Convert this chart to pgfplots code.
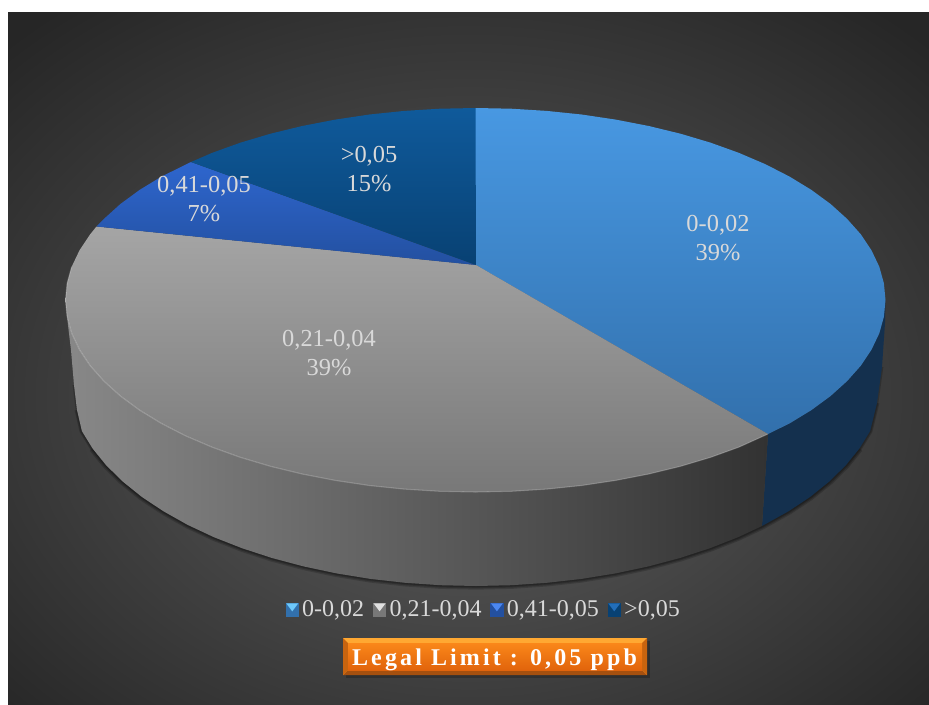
\documentclass[border=0pt]{standalone}
\usepackage{fontspec}
\setmainfont{Liberation Serif}
\usepackage{pgfplots}
\pgfplotsset{compat=1.18}

\definecolor{lbltext}{RGB}{217,217,217}
\definecolor{sliceA}{RGB}{72,152,226}
\definecolor{sliceAb}{RGB}{50,112,172}
\definecolor{sliceB}{RGB}{165,165,165}
\definecolor{sliceBb}{RGB}{120,120,120}
\definecolor{sliceC}{RGB}{46,102,206}
\definecolor{sliceCb}{RGB}{35,80,160}
\definecolor{sliceD}{RGB}{15,90,155}
\definecolor{sliceDb}{RGB}{8,65,115}
\definecolor{legA}{RGB}{110,200,250}
\definecolor{legB}{RGB}{225,225,225}
\definecolor{legC}{RGB}{75,135,240}
\definecolor{legD}{RGB}{35,110,185}

\pgfdeclareradialshading{bgshade}{\pgfpoint{0bp}{-4bp}}{%
  rgb(0bp)=(0.38,0.38,0.38);
  rgb(35bp)=(0.15,0.15,0.15);
  rgb(70bp)=(0.15,0.15,0.15)}

% bevelled legend square; shade=false because the plot's shading is inherited here
\newcommand{\legimg}[2]{%
  \fill[shade=false,#1] (0pt,-5pt) rectangle (10pt,5pt);
  \fill[shade=false,#2] (0.5pt,5pt) -- (9.5pt,5pt) -- (5pt,-1pt) -- cycle;
}

\begin{document}
\begin{tikzpicture}
\begin{axis}[
    scale only axis,
    width=696.75pt, height=528pt,
    xmin=0, xmax=929,
    ymin=0, ymax=704,
    y dir=reverse,
    hide axis,
    clip=false,
    legend columns=4,
    legend cell align=left,
    legend style={
        at={(axis cs:484,610)}, anchor=center,
        draw=none, fill=none, text=lbltext,
        font=\fontsize{18}{21}\selectfont,
        inner sep=0pt,
        nodes={inner xsep=2pt, inner ysep=0pt},
        /tikz/every even column/.append style={column sep=4.5pt},
        /tikz/every odd column/.append style={column sep=0.5pt},
    },
]
% page and background
\addplot[fill=white, draw=none, forget plot] coordinates {(0,0)(929,0)(929,704)(0,704)} -- cycle;
\addplot[shade, shading=bgshade, draw=none, forget plot] coordinates {(8,12)(929,12)(929,704)(8,704)} -- cycle;

% shadow below the pie, soft edge from three strokes
\addplot[draw=black, draw opacity=0.18, line width=5.5pt, forget plot] coordinates {
 (92.6,448.5)(106.2,465.3)(122.7,481.5)(141.8,496.9)(163.5,511.3)(187.5,524.8)
 (213.7,537.1)(242,548.2)(272,558)(303.6,566.4)(336.5,573.4)(370.4,578.9)(405.2,582.8)(440.4,585.2)(476,586)
 (511.6,585.2)(546.8,582.8)(581.6,578.9)(615.5,573.4)(648.4,566.4)(680,558)(710,548.2)(738.3,537.1)(762,526)
 (788.5,511.3)(810.2,496.9)(829.3,481.5)(845.8,465.3)(859.4,448.5)};
\addplot[draw=black, draw opacity=0.2, line width=3.6pt, forget plot] coordinates {
 (77,410)(81.9,431.1)(92.6,448.5)(106.2,465.3)(122.7,481.5)(141.8,496.9)(163.5,511.3)(187.5,524.8)
 (213.7,537.1)(242,548.2)(272,558)(303.6,566.4)(336.5,573.4)(370.4,578.9)(405.2,582.8)(440.4,585.2)(476,586)
 (511.6,585.2)(546.8,582.8)(581.6,578.9)(615.5,573.4)(648.4,566.4)(680,558)(710,548.2)(738.3,537.1)(762,526)
 (788.5,511.3)(810.2,496.9)(829.3,481.5)(845.8,465.3)(859.4,448.5)(870.1,431.1)(877,403)};
\addplot[draw=black, draw opacity=0.2, line width=2pt, forget plot] coordinates {
 (74,385)(77,410)(81.9,431.1)(92.6,448.5)(106.2,465.3)(122.7,481.5)(141.8,496.9)(163.5,511.3)(187.5,524.8)
 (213.7,537.1)(242,548.2)(272,558)(303.6,566.4)(336.5,573.4)(370.4,578.9)(405.2,582.8)(440.4,585.2)(476,586)
 (511.6,585.2)(546.8,582.8)(581.6,578.9)(615.5,573.4)(648.4,566.4)(680,558)(710,548.2)(738.3,537.1)(762,526)
 (788.5,511.3)(810.2,496.9)(829.3,481.5)(845.8,465.3)(859.4,448.5)(870.1,431.1)(877,403)(882,367)};

% side walls
\addplot[fill={rgb,255:red,20;green,48;blue,78}, draw=none, forget plot] coordinates {
 (885.5,300)(883.9,316.7)(879.3,333.3)(871.5,349.7)(860.8,365.7)(847.1,381.1)(830.6,396)(811.4,410.1)(789.6,423.4)(768,434)
 (762,526)(788.5,511.3)(810.2,496.9)(829.3,481.5)(845.8,465.3)(859.4,448.5)(870.1,431.1)(877,403)(882,367)(885,323)} -- cycle;
\addplot[shade, left color={rgb,255:red,136;green,136;blue,136}, middle color={rgb,255:red,67;green,67;blue,67}, right color={rgb,255:red,50;green,50;blue,50}, draw=none, forget plot] coordinates {
 (768,434)(739,447.1)(710.7,457.3)(680.5,466.3)(648.8,474)(615.7,480.4)(581.6,485.5)(546.7,489.1)(511.2,491.3)(475.5,492)
 (439.8,491.3)(404.3,489.1)(369.4,485.5)(335.3,480.4)(302.2,474)(270.5,466.3)(240.3,457.3)(212,447.1)(185.6,435.8)(161.4,423.4)
 (139.6,410.1)(120.4,396)(103.9,381.1)(90.2,365.7)(79.5,349.7)(71.7,333.3)(67.1,316.7)(65.5,300)
 (68,325)(71,350)(74,385)(77,410)(81.9,431.1)(92.6,448.5)(106.2,465.3)(122.7,481.5)(141.8,496.9)(163.5,511.3)(187.5,524.8)
 (213.7,537.1)(242,548.2)(272,558)(303.6,566.4)(336.5,573.4)(370.4,578.9)(405.2,582.8)(440.4,585.2)(476,586)
 (511.6,585.2)(546.8,582.8)(581.6,578.9)(615.5,573.4)(648.4,566.4)(680,558)(710,548.2)(738.3,537.1)(762,526)} -- cycle;

% top slices
\addplot[shade, top color=sliceA, bottom color=sliceAb, draw=none,
    legend image code/.code={\legimg{sliceAb}{legA}}] coordinates {
 (476,265)(475.5,108)(511.2,108.7)(546.7,110.9)(581.6,114.5)(615.7,119.6)(648.8,126)(680.5,133.7)(710.7,142.7)(739,152.9)
 (765.4,164.2)(789.6,176.6)(811.4,189.9)(830.6,204)(847.1,218.9)(860.8,234.3)(871.5,250.3)(879.3,266.7)(883.9,283.3)(885.5,300)
 (883.9,316.7)(879.3,333.3)(871.5,349.7)(860.8,365.7)(847.1,381.1)(830.6,396)(811.4,410.1)(789.6,423.4)(768,434)} -- cycle;
\addlegendentry{0-0,02}

\addplot[shade, top color=sliceB, bottom color=sliceBb, draw=none,
    legend image code/.code={\legimg{sliceBb}{legB}}] coordinates {
 (476,265)(768,434)(739,447.1)(710.7,457.3)(680.5,466.3)(648.8,474)(615.7,480.4)(581.6,485.5)(546.7,489.1)(511.2,491.3)(475.5,492)
 (439.8,491.3)(404.3,489.1)(369.4,485.5)(335.3,480.4)(302.2,474)(270.5,466.3)(240.3,457.3)(212,447.1)(185.6,435.8)(161.4,423.4)
 (139.6,410.1)(120.4,396)(103.9,381.1)(90.2,365.7)(79.5,349.7)(71.7,333.3)(67.1,316.7)(65.5,300)
 (67.1,283.3)(71.7,266.7)(79.5,250.3)(90.2,234.3)(96.5,226.5)} -- cycle;
\addlegendentry{0,21-0,04}

\addplot[shade, top color=sliceC, bottom color=sliceCb, draw=none,
    legend image code/.code={\legimg{sliceCb}{legC}}] coordinates {
 (476,265)(96.5,226.5)(103.9,218.9)(120.4,204)(139.6,189.9)(161.4,176.6)(191,162)} -- cycle;
\addlegendentry{0,41-0,05}

\addplot[shade, top color=sliceD, bottom color=sliceDb, draw=none,
    legend image code/.code={\legimg{sliceDb}{legD}}] coordinates {
 (476,265)(191,162)(212,152.9)(240.3,142.7)(270.5,133.7)(302.2,126)(335.3,119.6)(369.4,114.5)(404.3,110.9)(439.8,108.7)(475.5,108)} -- cycle;
\addlegendentry{>0,05}

% light rim on the grey slice
\addplot[draw=white, draw opacity=0.22, line width=0.8pt, forget plot] coordinates {
 (768,434)(739,447.1)(710.7,457.3)(680.5,466.3)(648.8,474)(615.7,480.4)(581.6,485.5)(546.7,489.1)(511.2,491.3)(475.5,492)
 (439.8,491.3)(404.3,489.1)(369.4,485.5)(335.3,480.4)(302.2,474)(270.5,466.3)(240.3,457.3)(212,447.1)(185.6,435.8)(161.4,423.4)
 (139.6,410.1)(120.4,396)(103.9,381.1)(90.2,365.7)(79.5,349.7)(71.7,333.3)(67.1,316.7)(65.5,300)(67.1,283.3)(71.7,266.7)};

% legal limit button
\addplot[fill=black, fill opacity=0.22, draw=none, forget plot] coordinates {(346,641)(650,641)(650,678)(346,678)} -- cycle;
\addplot[fill={rgb,255:red,255;green,168;blue,50}, draw=none, forget plot] coordinates {(343,638)(647,638)(647,675)(343,675)} -- cycle;
\addplot[fill={rgb,255:red,165;green,80;blue,15}, draw=none, forget plot] coordinates {(343,675)(348,670)(642,670)(647,675)} -- cycle;
\addplot[fill={rgb,255:red,200;green,100;blue,15}, draw=none, forget plot] coordinates {(343,638)(348,643)(348,670)(343,675)} -- cycle;
\addplot[fill={rgb,255:red,200;green,100;blue,15}, draw=none, forget plot] coordinates {(647,638)(642,643)(642,670)(647,675)} -- cycle;
\addplot[shade, top color={rgb,255:red,250;green,135;blue,25}, bottom color={rgb,255:red,225;green,100;blue,12}, draw=none, forget plot] coordinates {(348,643)(642,643)(642,670)(348,670)} -- cycle;

% data labels
\tikzset{lbl/.style={text=lbltext, align=center, inner sep=0pt, font=\fontsize{18.3}{21.7}\selectfont}}
\node[lbl] at (axis cs:718,238) {0-0,02\\39\%};
\node[lbl] at (axis cs:329,353) {0,21-0,04\\39\%};
\node[lbl] at (axis cs:204,199) {0,41-0,05\\7\%};
\node[lbl] at (axis cs:369,169) {>0,05\\15\%};
\node[text=white, inner sep=0pt, font=\fontsize{18}{21}\selectfont\bfseries\addfontfeature{LetterSpace=13}] at (axis cs:494.5,660) {Legal Limit : 0,05 ppb};
\end{axis}
\end{tikzpicture}
\end{document}
